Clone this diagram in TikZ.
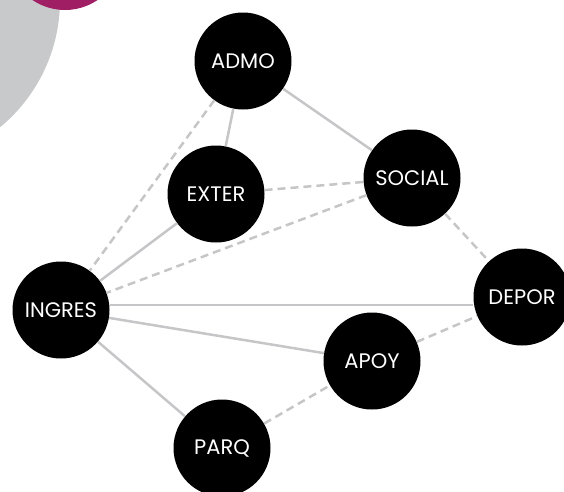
\documentclass[tikz,border=0pt]{standalone}
\usepackage{fontspec}
\setmainfont{Poppins}
\definecolor{edgegrey}{RGB}{198,198,200}
\definecolor{bggrey}{RGB}{200,201,203}
\definecolor{magenta}{RGB}{160,30,100}
\begin{document}
\begin{tikzpicture}[x=1pt,y=-1pt,
  ball/.style={circle,fill=black,minimum size=97pt,inner sep=0pt,text=white,font=\fontsize{21}{24}\selectfont},
  link/.style={draw=edgegrey,line width=2.5pt},
  dlink/.style={draw=edgegrey,line width=2.5pt,dash pattern=on 8pt off 5pt}]
\useasboundingbox (0,0) rectangle (564,491);
\begin{scope}
\clip (0,0) rectangle (564,491);
\fill[bggrey] (-105,0) circle[radius=165];
\fill[magenta] (65,-48) circle[radius=58];
\node[ball] (admo) at (243,61) {ADMO};
\node[ball] (exter) at (216,194) {EXTER};
\node[ball] (social) at (412,178) {SOCIAL};
\node[ball] (depor) at (522,297) {DEPOR};
\node[ball] (apoy) at (372,361) {APOY};
\node[ball] (ingres) at (61,310) {INGRES};
\node[ball] (parq) at (222,448) {PARQ};
\coordinate (hl) at (0,305);
\draw[link] (admo) -- (social);
\draw[link] (admo) -- (exter);
\draw[dlink] (admo) -- (ingres);
\draw[dlink] (exter) -- (social);
\draw[link] (exter) -- (ingres);
\draw[dlink] (social) -- (ingres);
\draw[dlink] (social) -- (depor);
\draw[link] (ingres.east |- hl) -- (depor.west |- hl);
\draw[link] (ingres) -- (apoy);
\draw[link] (ingres) -- (parq);
\draw[dlink] (apoy) -- (depor);
\draw[dlink] (parq) -- (apoy);
\end{scope}
\end{tikzpicture}
\end{document}
